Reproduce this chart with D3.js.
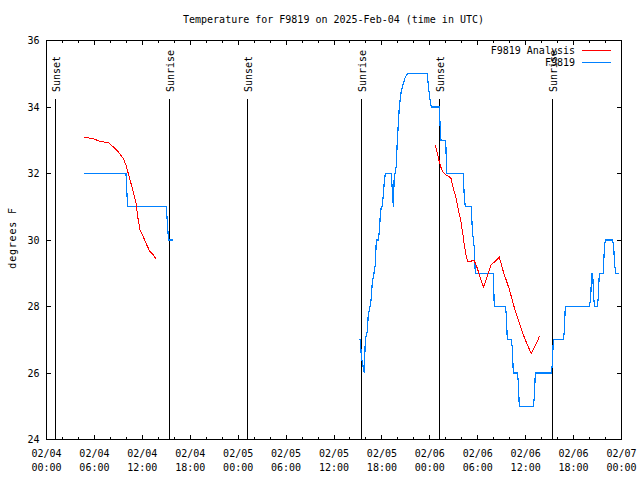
<!DOCTYPE html>
<html><head><meta charset="utf-8">
<script src="https://cdn.jsdelivr.net/npm/d3@7"></script>
<style>
body{margin:0;background:#fff}
text{font-family:"DejaVu Sans Mono","Liberation Mono",monospace;font-size:10px;fill:#000}
</style>
</head><body>
<svg id="c" width="640" height="480"></svg>
<script>
// ---- data (hours after 2025-02-04 00:00 UTC) ----
const startDate = "2025-02-04T00:00:00Z";
const title = "Temperature for F9819 on 2025-Feb-04 (time in UTC)";
const yLabel = "degrees F";
const xMajorHours = [0,6,12,18,24,30,36,42,48,54,60,66,72];
const xMinorHours = d3.range(0,73,2);
const yTicks = [24,26,28,30,32,34,36];
const sunsetHours = [1.07, 25.12, 49.17];
const sunriseHours = [15.38, 39.40, 63.33];
const seriesNames = ["F9819 Analysis", "F9819"];

// observed station temperatures (null = gap)
const obsHours = [4.70,9.95,10.15,15.00,15.28,15.78, null,
  39.17,39.30,39.42,39.79,39.92,40.17,40.29,40.51,40.67,40.80,41.01,41.17,41.30,41.55,41.67,41.80,41.92,42.05,42.30,42.42,
  43.17,43.30,43.43,43.55,43.68,43.80,43.93,44.18,44.43,44.68,44.93,45.18,47.68,47.81,47.93,48.06,48.18,49.19,49.31,49.40,
  49.99,50.11,52.19,52.32,52.44,53.19,53.32,53.57,53.69,55.95,56.07,57.45,57.58,57.70,58.20,58.33,58.45,58.95,59.08,59.20,
  60.96,61.08,61.21,63.21,63.34,63.46,64.71,64.84,64.96,67.97,68.14,68.27,68.39,68.52,68.64,68.97,69.09,69.22,69.72,69.85,
  69.97,70.90,71.03,71.15,71.27,71.72];
const obsTemps = [32,32,31,31,30,30, null,
  27,27,26.5,26,27,27.24,27.75,28,28.25,28.75,29,29.25,30,30,30.25,30.75,31,31,31.75,32,
  32,31.5,31,32,32,32.25,33,34,34.5,34.7,34.9,35,35,34.65,34.4,34.15,34,34,33.3,33,
  33,32,32,31.25,31,31,30.3,29.75,29,29,28,28,27.75,27,27,26.75,26,26,25.75,25,
  25,25.25,26,26,26.25,27,27,27.25,28,28,28.25,29,29,28.25,28,28,28.25,29,29,29.75,
  30,30,29.75,29.25,29,29];

// analysis temperatures (null = gap)
const anaHours = [4.70,5.23,5.86,6.61,7.74,8.36,8.99,9.62,9.95,10.24,10.58,10.87,11.21,11.42,11.71,12.12,12.55,12.96,13.37,13.75, null,
  48.69,48.94,49.19,49.44,49.69,50.03,50.44,50.65,50.94,51.24,51.57,51.87,52.12,52.32,52.53,52.74,53.03,53.53,53.87,54.28,54.70,
  55.12,55.66,56.16,56.70,57.20,57.95,58.54,59.08,59.63,60.20,60.71,61.17,61.76];
const anaTemps = [33.09,33.07,33.05,32.97,32.93,32.80,32.65,32.45,32.25,32.00,31.70,31.45,31.10,30.70,30.30,30.10,29.85,29.65,29.55,29.42, null,
  32.85,32.60,32.35,32.15,32.03,31.95,31.90,31.85,31.55,31.30,30.90,30.60,30.20,29.85,29.55,29.35,29.35,29.40,29.20,28.90,28.58,
  28.85,29.25,29.35,29.48,29.05,28.52,28.00,27.60,27.20,26.85,26.58,26.80,27.12];

// ---- drawing ----
const t0 = new Date(startDate);
const toDate = h => new Date(t0.getTime() + h * 3600e3);
const svg = d3.select("#c");
const L = 46, R = 621, T = 40, B = 439;
const x = d3.scaleUtc().domain([toDate(0), toDate(72)]).range([L, R]);
const y = d3.scaleLinear().domain([24, 36]).range([B, T]);

svg.append("text").attr("x", 333.5).attr("y", 23).attr("text-anchor", "middle").text(title);

// frame
svg.append("rect").attr("x", L + 0.5).attr("y", T + 0.5).attr("width", R - L).attr("height", B - T)
  .attr("fill", "none").attr("stroke", "#000").attr("shape-rendering", "crispEdges");

function tickAxis(axis, tx, ty) {
  const g = svg.append("g").attr("transform", `translate(${tx},${ty})`).call(axis);
  g.select(".domain").remove();
  g.selectAll("line").attr("shape-rendering", "crispEdges").attr("stroke", "#000");
  g.selectAll("text").remove();
  return g;
}
const majD = xMajorHours.map(toDate), minD = xMinorHours.map(toDate);
tickAxis(d3.axisBottom(x).tickValues(majD).tickSize(-4).tickSizeOuter(0), 0, B);
tickAxis(d3.axisBottom(x).tickValues(minD).tickSize(-2).tickSizeOuter(0), 0, B);
tickAxis(d3.axisTop(x).tickValues(majD).tickSize(-4).tickSizeOuter(0), 0, T + 1);
tickAxis(d3.axisTop(x).tickValues(minD).tickSize(-2).tickSizeOuter(0), 0, T + 1);
tickAxis(d3.axisLeft(y).tickValues(yTicks).tickSize(-4).tickSizeOuter(0), L + 1, 0);
tickAxis(d3.axisRight(y).tickValues(yTicks).tickSize(-4).tickSizeOuter(0), R, 0);

// x labels
const fmtD = d3.utcFormat("%m/%d"), fmtT = d3.utcFormat("%H:%M");
const xl = svg.append("g").selectAll("text").data(majD).join("text")
  .attr("text-anchor", "middle");
xl.append("tspan").attr("x", d => x(d) + 0.5).attr("y", 457).text(fmtD);
xl.append("tspan").attr("x", d => x(d) + 0.5).attr("y", 471).text(fmtT);

// y labels
svg.append("g").selectAll("text").data(yTicks).join("text")
  .attr("x", 39.5).attr("y", d => y(d) + 4).attr("text-anchor", "end").text(d => d);

svg.append("text").attr("transform", "translate(16,238) rotate(-90)")
  .attr("text-anchor", "middle").attr("letter-spacing", "0.8").text(yLabel);

// sunrise / sunset
const events = sunsetHours.map(h => ({h, name: "Sunset"}))
  .concat(sunriseHours.map(h => ({h, name: "Sunrise"})));
const eg = svg.append("g");
eg.selectAll("line").data(events).join("line")
  .attr("x1", d => Math.round(x(toDate(d.h))) + 0.5).attr("x2", d => Math.round(x(toDate(d.h))) + 0.5)
  .attr("y1", 99).attr("y2", B).attr("stroke", "#000").attr("shape-rendering", "crispEdges");
eg.selectAll("text").data(events).join("text")
  .attr("transform", d => `translate(${Math.round(x(toDate(d.h))) + 4.5},92) rotate(-90)`)
  .text(d => d.name);

// series
const mk = (hs, vs) => hs.map((h, i) => ({h, v: vs[i]}));
const line = d3.line().defined(d => d.h != null && d.v != null)
  .x(d => x(toDate(d.h)) + 0.5).y(d => y(d.v) + 0.5);
svg.append("path").datum(mk(obsHours, obsTemps)).attr("d", line)
  .attr("fill", "none").attr("stroke", "#0080ff").attr("stroke-width", 1.2)
  .attr("shape-rendering", "crispEdges");
svg.append("path").datum(mk(anaHours, anaTemps)).attr("d", line)
  .attr("fill", "none").attr("stroke", "#ff0000").attr("stroke-width", 1)
  .attr("shape-rendering", "crispEdges");

// legend
const colors = ["#ff0000", "#0080ff"];
const lg = svg.append("g");
seriesNames.forEach((n, i) => {
  const by = 53.5 + i * 12.5;
  lg.append("text").attr("x", 575).attr("y", by).attr("text-anchor", "end").text(n);
  lg.append("line").attr("x1", 582).attr("x2", 611).attr("y1", Math.round(by - 4) + 0.5).attr("y2", Math.round(by - 4) + 0.5)
    .attr("stroke", colors[i]).attr("stroke-width", 1).attr("shape-rendering", "crispEdges");
});
</script>
</body></html>
